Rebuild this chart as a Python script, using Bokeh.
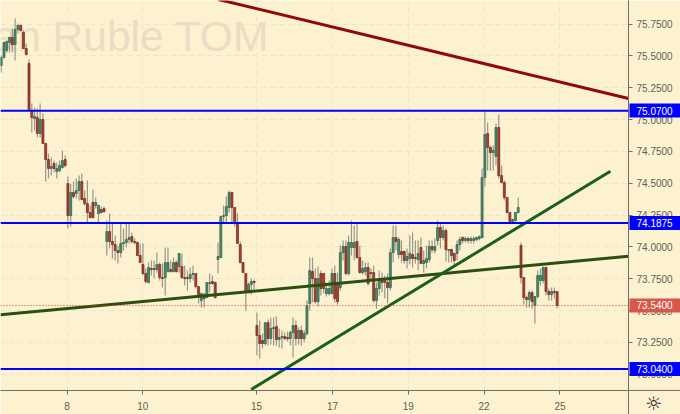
from bokeh.plotting import figure
from bokeh.models import Label, Span, FixedTicker, NumeralTickFormatter, Range1d, ColumnDataSource
from bokeh.embed import file_html
from bokeh.resources import INLINE

# Candle bodies and wicks, oldest first
body_top = [75.487,75.605,75.613,75.644,75.644,75.707,75.739,75.739,75.684,75.558,
 75.440,75.071,75.024,75.016,75.000,75.000,74.812,74.686,74.631,74.655,74.616,74.639,74.678,74.686,
 74.497,74.427,74.427,74.443,74.513,74.513,74.380,74.340,74.270,74.349,74.349,74.325,74.293,74.301,
 74.120,74.120,74.042,74.018,73.971,74.026,74.034,74.058,74.073,74.081,74.042,74.034,73.932,73.861,
 73.791,73.838,73.830,73.830,73.861,73.861,73.759,73.877,73.877,73.822,73.877,73.877,73.948,73.846,
 73.759,73.759,73.783,73.791,73.791,73.688,73.633,73.625,73.720,73.720,73.728,73.720,73.924,74.238,
 74.246,74.317,74.427,74.427,74.309,74.183,74.018,73.877,73.791,73.704,73.728,73.728,
 73.382,73.304,73.264,73.405,73.405,73.358,73.366,73.374,73.288,73.296,73.296,73.288,73.327,73.382,
 73.382,73.343,73.343,73.319,73.539,73.814,73.806,73.751,73.751,73.791,73.791,73.673,73.673,73.791,
 73.791,73.720,73.955,74.003,74.003,74.034,74.034,74.034,74.042,73.916,73.830,73.838,73.838,73.798,
 73.798,73.673,73.736,73.736,73.736,73.720,73.955,74.073,74.073,74.058,73.963,73.963,73.924,73.948,
 73.940,73.916,73.948,73.995,73.893,73.908,74.003,74.003,74.003,
 74.152,74.152,74.128,74.128,73.979,73.979,73.948,74.018,74.058,74.073,74.065,74.065,74.065,74.065,
 74.073,74.081,74.545,74.882,74.890,74.780,74.757,74.937,74.937,74.560,74.505,74.388,74.270,74.215,
 74.270,74.309,74.011,73.759,73.602,73.641,73.641,73.610,73.775,73.775,73.838,73.838,73.649,73.649,
 73.649,73.649]
body_bottom = [75.424,75.487,75.542,75.605,75.589,75.589,75.707,75.699,75.558,75.511,
 75.071,75.016,75.008,74.890,74.890,74.812,74.686,74.616,74.616,74.616,74.592,74.600,74.623,74.639,
 74.246,74.246,74.396,74.419,74.443,74.372,74.340,74.270,74.230,74.230,74.325,74.262,74.270,74.277,
 74.042,74.042,74.018,73.971,73.955,73.955,74.026,74.034,74.058,74.042,74.034,73.932,73.877,73.791,
 73.728,73.720,73.822,73.822,73.822,73.759,73.751,73.759,73.806,73.806,73.806,73.806,73.846,73.759,
 73.751,73.751,73.751,73.783,73.688,73.618,73.578,73.594,73.602,73.712,73.712,73.602,73.900,73.916,
 74.238,74.246,74.309,74.309,74.183,74.026,73.877,73.798,73.649,73.649,73.704,73.720,
 73.304,73.241,73.241,73.241,73.280,73.280,73.358,73.272,73.272,73.288,73.280,73.280,73.280,73.327,
 73.280,73.280,73.280,73.280,73.319,73.555,73.751,73.570,73.570,73.673,73.673,73.633,73.633,73.633,
 73.594,73.570,73.680,73.955,73.791,73.791,73.995,73.995,73.916,73.798,73.798,73.806,73.712,73.791,
 73.578,73.578,73.673,73.720,73.720,73.680,73.680,73.955,74.042,73.940,73.940,73.893,73.893,73.908,
 73.908,73.908,73.900,73.869,73.869,73.877,73.900,73.979,73.971,
 74.050,74.073,74.073,73.979,73.971,73.932,73.893,73.948,74.018,74.050,74.050,74.050,74.050,74.050,
 74.058,74.065,74.073,74.545,74.780,74.741,74.741,74.710,74.560,74.505,74.388,74.270,74.199,74.199,
 74.207,74.270,73.759,73.602,73.586,73.586,73.570,73.539,73.610,73.736,73.736,73.649,73.625,73.625,
 73.641,73.540]
candle_high = [75.503,75.613,75.621,75.652,75.715,75.794,75.754,75.746,75.699,75.597,
 75.471,75.126,75.094,75.086,75.126,75.047,74.812,74.733,74.702,74.678,74.663,74.678,74.757,74.718,
 74.553,74.497,74.513,74.537,74.561,74.576,74.443,74.521,74.325,74.450,74.388,74.333,74.317,74.317,
 74.207,74.262,74.191,74.089,74.011,74.183,74.144,74.183,74.183,74.112,74.065,74.042,74.026,74.026,
 73.830,73.877,73.893,73.893,73.955,73.877,73.869,73.995,73.995,73.893,73.916,73.893,73.948,73.948,
 73.853,73.814,73.838,73.853,73.791,73.688,73.641,73.641,73.720,73.791,73.775,73.728,74.034,74.238,
 74.325,74.396,74.443,74.435,74.309,74.262,74.042,73.877,73.791,73.720,73.751,73.743,
 73.484,73.421,73.319,73.405,73.429,73.445,73.445,73.453,73.358,73.343,73.327,73.335,73.343,73.445,
 73.421,73.366,73.382,73.343,73.578,73.916,73.916,73.830,73.846,73.814,73.791,73.720,73.736,73.830,
 73.853,73.798,74.011,74.050,74.050,74.089,74.207,74.168,74.191,74.011,73.893,73.877,73.877,73.830,
 73.853,73.720,73.814,73.798,73.775,73.791,73.987,74.168,74.168,74.073,74.050,73.971,73.987,74.089,
 74.112,74.050,74.050,74.073,73.971,74.011,74.050,74.050,74.065,
 74.207,74.191,74.168,74.144,73.979,73.987,73.955,74.050,74.081,74.081,74.081,74.081,74.081,74.081,
 74.081,74.089,74.615,75.071,74.976,74.796,74.796,74.968,75.039,74.639,74.521,74.388,74.270,74.223,
 74.270,74.388,74.034,73.759,73.618,73.657,73.657,73.610,73.814,73.830,73.846,73.846,73.673,73.680,
 73.680,73.649]
candle_low = [75.369,75.479,75.526,75.526,75.526,75.464,75.676,75.691,75.558,75.503,
 75.071,74.898,74.914,74.859,74.859,74.812,74.513,74.537,74.561,74.584,74.537,74.584,74.616,74.623,
 74.144,74.160,74.380,74.380,74.364,74.364,74.325,74.183,74.223,74.223,74.301,74.191,74.262,74.270,
 73.932,73.987,73.908,73.893,73.869,73.916,73.971,73.995,74.026,74.026,74.018,73.932,73.877,73.775,
 73.712,73.712,73.775,73.751,73.798,73.736,73.680,73.618,73.798,73.798,73.798,73.798,73.798,73.751,
 73.696,73.657,73.720,73.736,73.673,73.555,73.523,73.523,73.602,73.641,73.704,73.594,73.791,73.916,
 74.191,74.191,74.270,74.191,74.160,74.026,73.869,73.798,73.500,73.633,73.625,73.657,
 73.147,73.123,73.202,73.225,73.225,73.233,73.225,73.225,73.210,73.202,73.264,73.256,73.225,73.131,
 73.225,73.233,73.225,73.249,73.304,73.500,73.563,73.555,73.531,73.618,73.633,73.610,73.618,73.625,
 73.563,73.547,73.657,73.893,73.775,73.775,73.932,73.893,73.908,73.791,73.783,73.775,73.696,73.736,
 73.563,73.515,73.618,73.641,73.594,73.555,73.657,73.877,73.971,73.908,73.877,73.869,73.830,73.861,
 73.838,73.869,73.814,73.869,73.798,73.830,73.877,73.955,73.948,
 74.011,73.987,74.050,73.885,73.877,73.877,73.853,73.893,73.971,74.026,74.034,74.026,74.026,74.026,
 74.042,74.050,74.065,74.474,74.600,74.600,74.600,74.639,74.537,74.497,74.364,74.262,74.191,74.191,
 74.199,74.262,73.712,73.547,73.523,73.523,73.515,73.398,73.594,73.696,73.712,73.618,73.578,73.578,
 73.594,73.516]

candle_dir = list(
    "uuuuduuddd"
    "ddududdduduuud"
    "dudu" "uddddduu" "dd"
    "u" "d" "d" "d" "d" "u" "u" "u" "u" "d" "d" "d" "d" "d"
    "d" "u" "d" "d" "u" "d" "d" "u" "u" "d" "u" "d" "u" "d"
    "d" "d" "u" "u" "d" "d" "u" "d" "u" "u" "d" "d" "u" "u"
    "u" "u" "u" "d" "d" "d" "d" "d" "d" "u" "u" "d"
    "d" "d" "d" "u" "d" "u" "u" "d" "u" "u" "d" "d" "u" "u"
    "d" "u" "d" "u" "u" "u" "d" "d" "u" "d" "d" "u" "u" "u"
    "d" "d" "u" "u" "d" "u" "u" "u" "d" "d" "u" "u" "d" "d"
    "d" "u" "u" "d" "d" "d" "u" "u" "d" "u" "d" "d" "u" "u"
    "d" "d" "u" "d" "u" "u" "u" "d" "u"
    "u" "d" "u" "d" "u" "d" "d" "u" "u" "d" "u" "d" "u" "u"
    "u" "u" "u" "u" "d" "d" "u" "u" "d" "d" "d" "d" "d" "u"
    "u" "u" "d" "d" "d" "u" "d" "u" "u" "u" "u" "d" "d" "u"
    "d" "d"
)

# Sessions (time axis) and price levels
session_ticks = [0, 2, 5, 7, 9, 11, 13]
session_labels = ["8", "10", "15", "17", "19", "22", "25"]
price_ticks = [73.0, 73.25, 73.5, 73.75, 74.0, 74.25, 74.5, 74.75, 75.0, 75.25, 75.5, 75.75]
first_session = -1.735
per_candle = 0.0733
level_values = [75.07, 74.1875, 73.04]
level_texts = ["75.0700", "74.1875", "73.0400"]
last_price = 73.54
last_text = "73.5400"
red_x = [3.995, 14.807]
red_y = [75.943, 75.165]
olive_x = [-1.754, 14.807]
olive_y = [73.466, 73.926]
green_x = [4.858, 14.33]
green_y = [72.880, 74.594]

x_lo, x_hi = -1.7537, 14.807
y_lo, y_hi = 72.872, 75.935
x_page = 16.179
y_page = 72.683
BG = "#fdf2d0"
AXIS = "#6f6f66"
TXT = "#5f5f55"

p = figure(width=680, height=414, output_backend="svg", toolbar_location=None,
           x_range=Range1d(x_lo, x_hi), y_range=Range1d(y_lo, y_hi),
           y_axis_location="right", min_border_left=0, min_border_top=0,
           min_border_right=52, min_border_bottom=24, outline_line_color=None,
           background_fill_color=BG, border_fill_color=BG)
p.styles = {"position": "absolute", "left": "0px", "top": "0px"}

for g in (p.xgrid[0], p.ygrid[0]):
    g.grid_line_color = "#e9e4d4"
    g.grid_line_dash = "5 4"
    g.grid_line_width = 1
p.xgrid[0].ticker = FixedTicker(ticks=session_ticks)
p.ygrid[0].ticker = FixedTicker(ticks=price_ticks)

xa = p.xaxis[0]
xa.ticker = FixedTicker(ticks=session_ticks)
xa.major_label_overrides = {t: s for t, s in zip(session_ticks, session_labels)}
ya = p.yaxis[0]
ya.ticker = FixedTicker(ticks=price_ticks)
ya.formatter = NumeralTickFormatter(format="0.0000")
for a in (xa, ya):
    a.axis_line_color = AXIS
    a.major_tick_line_color = AXIS
    a.major_tick_out = 4
    a.major_tick_in = 0
    a.minor_tick_line_color = None
    a.major_label_text_font = "Liberation Sans"
    a.major_label_text_font_size = "10px"
    a.major_label_text_color = TXT
ya.major_label_standoff = 4
xa.major_label_standoff = 7

p.add_layout(Label(x=x_lo - 7 / 37.92, y=75.652, text="an Ruble TOM", text_font="Liberation Sans",
                   text_font_size="42.5px", text_color="#e8dec3", text_baseline="alphabetic", level="underlay"))

t = [first_session + i * per_candle for i in range(len(body_top))]
src = ColumnDataSource(dict(t=t, top=body_top, bottom=body_bottom, high=candle_high, low=candle_low,
                            fill=["#4a8d6e" if d == "u" else "#ad4034" for d in candle_dir],
                            edge=["#2b5d46" if d == "u" else "#6b2419" for d in candle_dir]))
p.segment("t", "low", "t", "high", source=src, line_color="#96968b", line_width=1.2)
p.vbar("t", top="top", bottom="bottom", width=per_candle * 0.72, source=src,
       fill_color="fill", line_color="edge", line_width=0.7)

for v in level_values:
    p.add_layout(Span(location=v, dimension="width", line_color="#0000ff", line_width=2))
p.add_layout(Span(location=last_price, dimension="width", line_color="#c9402f", line_width=1, line_dash="1 2"))

p.line(olive_x, olive_y, line_color="#2b4f10", line_width=3)
p.line(green_x, green_y, line_color="#1a601a", line_width=3)
p.line(red_x, red_y, line_color="#8f0a0a", line_width=3)

# A transparent sheet over the whole page for what sits outside the plot frame
sheet = figure(width=680, height=414, output_backend="svg", toolbar_location=None,
               x_range=Range1d(x_lo, x_page), y_range=Range1d(y_page, y_hi),
               x_axis_type=None, y_axis_type=None, min_border=0, outline_line_color=None,
               background_fill_color=None, border_fill_color=None)
sheet.styles = {"position": "absolute", "left": "0px", "top": "0px"}
sheet.line([x_hi, x_page], [y_lo, y_lo], line_color=AXIS, line_width=1)
sheet.line([x_hi, x_hi], [y_lo, y_page], line_color=AXIS, line_width=1)

def tag(v, txt, bg):
    sheet.add_layout(Label(x=x_hi, y=v, x_offset=1, text=txt, text_font="Liberation Sans", text_font_size="10px",
                           text_color="#ffffff", text_baseline="middle", text_align="left",
                           background_fill_color=bg, padding=(7, 8, 3, 3)))

for v, s in zip(level_values, level_texts):
    tag(v, s, "#0000ff")
tag(last_price, last_text, "#d8564a")

sheet.add_layout(Label(x=x_hi + 25 / 37.92, y=y_lo - 13 * 0.007855, text="\u263c", text_font="DejaVu Sans",
                       text_font_size="19px", text_color="#222222", text_align="center", text_baseline="middle"))

open("out.html", "w").write(file_html([p, sheet], INLINE))
